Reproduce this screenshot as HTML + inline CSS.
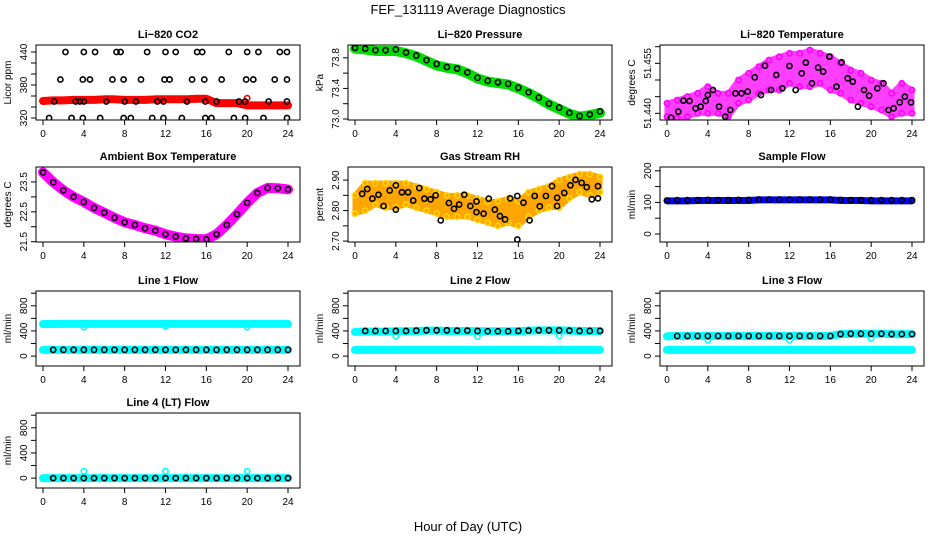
<!DOCTYPE html>
<html><head><meta charset="utf-8"><style>
html,body{margin:0;padding:0;background:#fff;}
svg{display:block;font-family:"Liberation Sans",Arial,sans-serif;}
</style></head><body>
<svg id="chart" width="936" height="540" viewBox="0 0 936 540">
<text x="468" y="14" text-anchor="middle" font-size="13">FEF_131119  Average Diagnostics</text>
<text x="468" y="531" text-anchor="middle" font-size="13">Hour of Day (UTC)</text>
</svg>
<script>
const hourly = [0,1,2,3,4,5,6,7,8,9,10,11,12,13,14,15,16,17,18,19,20,21,22,23,24];
const xTicks = [0,4,8,12,16,20,24];

// CO2
const co2Red = [351,352,352,353,353,353,354,354,353,353,353,354,354,354,354,355,355,347,347,347,343,343,343,343,343];
const co2Hours440 = [2.2,4,5.1,7.2,7.6,10.2,12,13,15.1,15.6,18.2,20,21.1,23.2,23.9];
const co2Hours390 = [1.7,3.9,4.6,6.8,7.9,9.6,11.9,12.4,14.6,15.8,17.5,19.9,20.6,22.7,23.9];
const co2Hours350 = [1.1,3.2,3.6,4,6.2,8,9.1,11.2,11.8,14.1,15.9,17,19.2,19.8,22.1,23.9];
const co2Hours320 = [0.6,2.8,3.9,5.6,7.9,8.6,10.7,11.8,13.6,15.9,16.5,18.7,19.8,21.6,23.9];
const co2Levels = [440,390,350,320];

// Pressure
const pressBlack = [73.93,73.92,73.90,73.90,73.91,73.87,73.83,73.77,73.72,73.68,73.66,73.61,73.54,73.50,73.48,73.46,73.41,73.35,73.28,73.20,73.15,73.08,73.04,73.06,73.10];
const pressGreen = [73.92,73.91,73.89,73.89,73.89,73.86,73.82,73.76,73.70,73.67,73.65,73.60,73.53,73.49,73.47,73.45,73.40,73.34,73.27,73.19,73.13,73.07,73.03,73.05,73.08];

// Li-820 temperature
const tempHours = [0.4,1.1,1.6,2.2,2.8,3.3,3.8,4.0,4.5,5.1,5.7,6.2,6.7,7.3,7.9,8.6,9.2,9.6,10.2,10.7,11.3,12,12.6,13.2,13.6,14.2,14.8,15.3,15.9,16.6,17.1,17.7,18.2,18.7,19.3,19.8,20.6,21.2,21.7,22.2,22.8,23.3,23.9];
const tempBlack = [51.4387,51.4405,51.4438,51.4437,51.4415,51.442,51.4437,51.4455,51.447,51.442,51.439,51.441,51.446,51.446,51.4465,51.4508,51.4455,51.4543,51.447,51.4515,51.4475,51.4542,51.447,51.452,51.4552,51.449,51.4537,51.4525,51.457,51.448,51.4553,51.4505,51.4495,51.442,51.447,51.4453,51.4475,51.449,51.441,51.4415,51.4433,51.445,51.4433];
const tempMagHi = [51.443,51.444,51.445,51.446,51.448,51.446,51.446,51.450,51.452,51.454,51.456,51.457,51.458,51.458,51.459,51.458,51.457,51.455,51.453,51.452,51.450,51.449,51.446,51.449,51.447];
const tempMagLo = [51.439,51.4385,51.439,51.440,51.440,51.440,51.439,51.443,51.444,51.446,51.447,51.447,51.449,51.448,51.448,51.449,51.447,51.446,51.444,51.443,51.442,51.441,51.439,51.440,51.440];

// Ambient box temperature
const ambBlack = [23.82,23.49,23.22,23.0,22.83,22.63,22.47,22.3,22.15,22.06,21.95,21.87,21.75,21.67,21.61,21.59,21.58,21.75,22.06,22.42,22.8,23.13,23.3,23.29,23.25];

// Gas stream RH
const rhHours = [0.7,1.2,1.7,2.3,2.8,3.4,4.0,4.0,4.6,5.2,5.7,6.3,6.8,7.4,7.9,8.4,9.2,9.7,10.2,10.7,11.3,11.9,11.9,12.6,13.1,13.7,14.2,14.7,15.2,15.9,15.9,16.5,17.1,17.6,18.1,18.7,19.3,19.8,19.8,20.5,21.1,21.6,22.2,22.7,23.2,23.8,23.8];
const rhBlack = [2.855,2.871,2.839,2.852,2.815,2.866,2.883,2.803,2.860,2.860,2.833,2.874,2.839,2.837,2.850,2.768,2.825,2.806,2.820,2.852,2.815,2.830,2.795,2.790,2.839,2.803,2.782,2.771,2.840,2.848,2.705,2.826,2.768,2.848,2.814,2.848,2.880,2.842,2.815,2.858,2.883,2.901,2.891,2.877,2.837,2.880,2.840];
const rhHi = [2.85,2.89,2.89,2.89,2.89,2.89,2.88,2.87,2.86,2.85,2.85,2.85,2.84,2.83,2.83,2.84,2.83,2.86,2.87,2.88,2.90,2.91,2.92,2.92,2.91];
const rhLo = [2.79,2.80,2.82,2.81,2.81,2.82,2.81,2.80,2.79,2.78,2.78,2.78,2.77,2.76,2.75,2.76,2.75,2.78,2.80,2.81,2.81,2.84,2.86,2.85,2.86];

// Sample flow
const sampleBlack = [106,107,107,107,108,107,107,108,108,109,109,109,109,109,109,109,109,108,107,107,107,107,107,107,107];
const sampleBlue = [105,105,105,106,106,106,106,106,106,108,108,108,108,108,108,108,108,106,106,106,105,105,105,105,105];

// Line flows
const dipHours = [4,12,20];
const line1CyanHi = [510,510,512,512,512,512,512,512,512,512,512,512,512,512,512,512,512,512,512,512,512,512,512,512,512];
const line1CyanLo = [100,100,100,100,100,100,100,100,100,100,100,100,100,100,100,100,100,100,100,100,100,100,100,100,100];
const line1Black = [100,100,100,100,100,100,100,100,100,100,100,100,100,100,100,100,100,100,100,100,100,100,100,100,100];
const line1Dips = [460,470,460];
const line2CyanHi = [385,390,390,390,395,395,400,405,405,400,400,400,395,395,395,395,395,405,410,410,410,405,400,400,400];
const line2CyanLo = [100,100,100,100,100,100,100,100,100,100,100,100,100,100,100,100,100,100,100,100,100,100,100,100,100];
const line2Black = [400,400,400,400,400,400,405,410,410,410,405,405,400,395,395,395,400,405,410,410,410,405,400,400,400];
const line2Dips = [310,310,320];
const line3CyanHi = [315,320,320,320,320,320,320,320,320,320,320,320,320,320,320,320,320,350,355,355,355,355,350,350,350];
const line3CyanLo = [100,100,100,100,100,100,100,100,100,100,100,100,100,100,100,100,100,100,100,100,100,100,100,100,100];
const line3Black = [320,320,320,320,320,320,320,320,320,320,320,320,320,320,320,320,320,350,355,355,355,355,350,350,350];
const line3Dips = [250,250,280];
const line4Cyan = [0,0,0,0,0,0,0,0,0,0,0,0,0,0,0,0,0,0,0,0,0,0,0,0,0];
const line4Black = [0,0,0,0,0,0,0,0,0,0,0,0,0,0,0,0,0,0,0,0,0,0,0,0,0];
const line4Dips = [110,110,110];

const NS = "http://www.w3.org/2000/svg";
const svg = document.getElementById('chart');
function mk(tag, attrs, parent){
  const e = document.createElementNS(NS, tag);
  for (const k in attrs) e.setAttribute(k, attrs[k]);
  (parent||svg).appendChild(e);
  return e;
}

function panel(cfg){
  const g = mk('g', {});
  
  
  const bx = cfg.x, by = cfg.y, bw = 264, bh = 75;
  const xs = h => bx + 7 + h * (245/24);
  const ys = v => by + bh - (v - cfg.dom[0]) / (cfg.dom[1] - cfg.dom[0]) * bh;
  const t = mk('text', {x: bx + bw/2, y: by - 7, 'text-anchor':'middle', 'font-size':11, 'font-weight':'bold'}, g);
  t.textContent = cfg.title;
  
  
  const yl = mk('text', {x:0, y:0, transform:`translate(${bx-25},${by+bh/2}) rotate(-90)`, 'text-anchor':'middle', 'font-size':10}, g);
  yl.textContent = cfg.ylab;
  
  
  xTicks.forEach(h => {
    mk('line', {x1: xs(h), x2: xs(h), y1: by+bh, y2: by+bh+5, stroke:'#000'}, g);
    const tl = mk('text', {x: xs(h), y: by+bh+17, 'text-anchor':'middle', 'font-size':10}, g);
    tl.textContent = h;
    
    
  });
  cfg.yTicks.forEach(v => {
    mk('line', {x1: bx-5, x2: bx, y1: ys(v), y2: ys(v), stroke:'#000'}, g);
  });
  cfg.yLabels.forEach(v => {
    const tl = mk('text', {x:0, y:0, transform:`translate(${bx-9},${ys(v)}) rotate(-90)`, 'text-anchor':'middle', 'font-size':10}, g);
    tl.textContent = typeof v === 'number' && cfg.fmt ? v.toFixed(cfg.fmt) : v;
    
    
  });
  const clipId = 'clip-' + cfg.name;
  const cp = mk('clipPath', {id: clipId}, g);
  mk('rect', {x: bx, y: by, width: bw, height: bh}, cp);
  const plot = mk('g', {'clip-path': `url(#${clipId})`}, g);
  
  
  cfg.draw(plot, xs, ys);
  const frame = mk('rect', {x: bx, y: by, width: bw, height: bh, fill:'none', stroke:'#000'}, g);
  
  
}

function band(p, xs, ys, hours, hi, lo, color, name, op){
  let d = hours.map((h,i) => (i? 'L':'M') + xs(h) + ',' + ys(hi[i])).join('');
  for (let i = hours.length-1; i >= 0; i--) d += 'L' + xs(hours[i]) + ',' + ys(lo[i]);
  const e = mk('path', {d: d + 'Z', fill: color, stroke: color, 'stroke-width': 5, 'stroke-linejoin':'round', opacity: op||1}, p);
  
  
}
function thick(p, xs, ys, hours, vals, color, w, name){
  const d = hours.map((h,i) => (i? 'L':'M') + xs(h) + ',' + ys(vals[i])).join('');
  const e = mk('path', {d, fill:'none', stroke: color, 'stroke-width': w, 'stroke-linejoin':'round', 'stroke-linecap':'round'}, p);
  
  
}
function pts(p, xs, ys, hours, vals, color, name, r){
  hours.forEach((h,i) => {
    const c = mk('circle', {cx: xs(h), cy: ys(vals[i]), r: r||2.6, fill:'none', stroke: color, 'stroke-width': 1.6}, p);
    
    
  });
}

const C1 = 36, C2 = 348, C3 = 660, R1 = 45, R2 = 167, R3 = 291, R4 = 413;
const flowTicks = [0,200,400,600,800,1000], flowLabels = [0,400,800], flowDom = [-157,1035];

panel({name:'co2', title:'Li\u2212820 CO2', ylab:'Licor ppm', x:C1, y:R1, dom:[316.4,452.7],
  yTicks:[320,340,360,380,400,420,440], yLabels:[320,380,440],
  draw:(p,xs,ys)=>{
    thick(p,xs,ys,hourly,co2Red,'#ff0000',8,'co2-red-series');
    pts(p,xs,ys,[20],[356],'#ff0000','co2-red-point');
    [co2Hours440,co2Hours390,co2Hours350,co2Hours320].forEach((hs,k)=>{
      pts(p,xs,ys,hs,hs.map(()=>co2Levels[k]),'#000','co2-black-point');
    });
  }});
panel({name:'pressure', title:'Li\u2212820 Pressure', ylab:'kPa', x:C2, y:R1, dom:[72.987,73.968], fmt:1,
  yTicks:[73.0,73.2,73.4,73.6,73.8], yLabels:[73.0,73.4,73.8],
  draw:(p,xs,ys)=>{
    thick(p,xs,ys,hourly,pressGreen,'#00dd00',10,'pressure-green-series');
    pts(p,xs,ys,hourly,pressBlack,'#000','pressure-black-point');
  }});
panel({name:'li820-temp', title:'Li\u2212820 Temperature', ylab:'degrees C', x:C3, y:R1, dom:[51.438,51.4605], fmt:3,
  yTicks:[51.440,51.445,51.450,51.455,51.460], yLabels:[51.440,51.455],
  draw:(p,xs,ys)=>{
    band(p,xs,ys,hourly,tempMagHi,tempMagLo,'#ff00ff','temp-magenta-band',0.75);
    pts(p,xs,ys,hourly,tempMagHi,'#ff00ff','temp-magenta-point');
    pts(p,xs,ys,hourly,tempMagLo,'#ff00ff','temp-magenta-point');
    pts(p,xs,ys,tempHours,tempBlack,'#000','temp-black-point');
  }});
panel({name:'ambient-temp', title:'Ambient Box Temperature', ylab:'degrees C', x:C1, y:R2, dom:[21.49,24.0], fmt:1,
  yTicks:[21.5,22.0,22.5,23.0,23.5], yLabels:[21.5,22.5,23.5],
  draw:(p,xs,ys)=>{
    thick(p,xs,ys,hourly,ambBlack,'#ff00ff',10,'ambient-magenta-series');
    pts(p,xs,ys,hourly,ambBlack,'#000','ambient-black-point');
  }});
panel({name:'gas-rh', title:'Gas Stream RH', ylab:'percent', x:C2, y:R2, dom:[2.697,2.943], fmt:2,
  yTicks:[2.70,2.75,2.80,2.85,2.90], yLabels:[2.70,2.80,2.90],
  draw:(p,xs,ys)=>{
    band(p,xs,ys,hourly,rhHi,rhLo,'#ffa500','rh-orange-band');
    pts(p,xs,ys,hourly,rhHi,'#ffd700','rh-yellow-point');
    pts(p,xs,ys,hourly,rhLo,'#ffd700','rh-yellow-point');
    pts(p,xs,ys,rhHours,rhBlack,'#000','rh-black-point');
  }});
panel({name:'sample-flow', title:'Sample Flow', ylab:'ml/min', x:C3, y:R2, dom:[-25.3,212],
  yTicks:[0,50,100,150,200], yLabels:[0,100,200],
  draw:(p,xs,ys)=>{
    thick(p,xs,ys,hourly,sampleBlue,'#0000ff',7,'sample-blue-series');
    pts(p,xs,ys,hourly,sampleBlack,'#000','sample-black-point');
  }});
panel({name:'line1-flow', title:'Line 1 Flow', ylab:'ml/min', x:C1, y:R3, dom:flowDom,
  yTicks:flowTicks, yLabels:flowLabels,
  draw:(p,xs,ys)=>{
    thick(p,xs,ys,hourly,line1CyanHi,'#00ffff',8,'line1-cyan-high');
    thick(p,xs,ys,hourly,line1CyanLo,'#00ffff',8,'line1-cyan-low');
    pts(p,xs,ys,dipHours,line1Dips,'#00ffff','line1-cyan-dip');
    pts(p,xs,ys,hourly.slice(1),line1Black.slice(1),'#000','line1-black-point');
  }});
panel({name:'line2-flow', title:'Line 2 Flow', ylab:'ml/min', x:C2, y:R3, dom:flowDom,
  yTicks:flowTicks, yLabels:flowLabels,
  draw:(p,xs,ys)=>{
    thick(p,xs,ys,hourly,line2CyanHi,'#00ffff',8,'line2-cyan-high');
    thick(p,xs,ys,hourly,line2CyanLo,'#00ffff',8,'line2-cyan-low');
    pts(p,xs,ys,dipHours,line2Dips,'#00ffff','line2-cyan-dip');
    pts(p,xs,ys,hourly.slice(1),line2Black.slice(1),'#000','line2-black-point');
  }});
panel({name:'line3-flow', title:'Line 3 Flow', ylab:'ml/min', x:C3, y:R3, dom:flowDom,
  yTicks:flowTicks, yLabels:flowLabels,
  draw:(p,xs,ys)=>{
    thick(p,xs,ys,hourly,line3CyanHi,'#00ffff',8,'line3-cyan-high');
    thick(p,xs,ys,hourly,line3CyanLo,'#00ffff',8,'line3-cyan-low');
    pts(p,xs,ys,dipHours,line3Dips,'#00ffff','line3-cyan-dip');
    pts(p,xs,ys,hourly.slice(1),line3Black.slice(1),'#000','line3-black-point');
  }});
panel({name:'line4-flow', title:'Line 4 (LT) Flow', ylab:'ml/min', x:C1, y:R4, dom:flowDom,
  yTicks:flowTicks, yLabels:flowLabels,
  draw:(p,xs,ys)=>{
    thick(p,xs,ys,hourly,line4Cyan,'#00ffff',8,'line4-cyan-series');
    pts(p,xs,ys,dipHours,line4Dips,'#00ffff','line4-cyan-dip');
    pts(p,xs,ys,hourly.slice(1),line4Black.slice(1),'#000','line4-black-point');
  }});
</script>
</body></html>
